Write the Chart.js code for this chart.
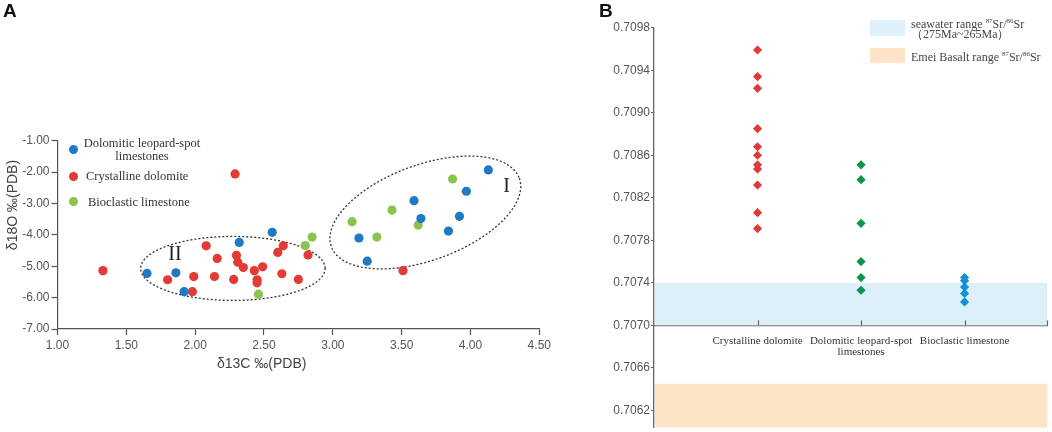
<!DOCTYPE html>
<html><head><meta charset="utf-8">
<script src="https://cdn.jsdelivr.net/npm/chart.js@4.4.1/dist/chart.umd.min.js"></script>
<style>
html,body{margin:0;padding:0;background:#fff;width:1052px;height:432px;overflow:hidden;position:relative;font-family:"Liberation Sans",Arial,sans-serif}
.abs{position:absolute;white-space:nowrap}
#wa{position:absolute;left:0;top:0;width:560px;height:380px}
#wb{position:absolute;left:600px;top:0;width:452px;height:432px}
.serif{font-family:"Liberation Serif","Times New Roman",serif;color:#333}
.dot{position:absolute;width:9px;height:9px;border-radius:50%}
.box{position:absolute}
sup{font-size:58%;vertical-align:5px;line-height:0}
</style></head><body>
<div id="wa"><canvas id="ca" width="560" height="380"></canvas></div>
<div id="wb"><canvas id="cb" width="452" height="432"></canvas></div>

<div class="abs" style="left:3px;top:0px;font-weight:bold;font-size:19px;color:#111">A</div>
<div class="abs" style="left:599px;top:0px;font-weight:bold;font-size:19px;color:#111">B</div>

<div class="abs" style="left:217px;top:355px;font-size:14px;color:#444">δ13C ‰(PDB)</div>
<div class="abs" style="left:12px;top:205px;font-size:14px;color:#444;transform:translate(-50%,-50%) rotate(-90deg)">δ18O ‰(PDB)</div>

<div id="legA"></div>
<div id="legB"></div>

<script>
// ---------- Panel A data ----------
const seriesNamesA = ['Dolomitic leopard-spot limestones', 'Crystalline dolomite', 'Bioclastic limestone'];
const dolomiticX = [1.65, 1.86, 1.92, 2.32, 2.56, 3.19, 3.25, 3.59, 3.64, 3.84, 3.92, 3.97, 4.13];
const dolomiticY = [-5.23, -5.21, -5.81, -4.24, -3.92, -4.10, -4.84, -2.91, -3.48, -3.88, -3.41, -2.61, -1.93];
const crystallineX = [1.33, 1.80, 1.98, 1.99, 2.08, 2.14, 2.16, 2.28, 2.29, 2.30, 2.31, 2.35, 2.43, 2.45, 2.45, 2.49, 2.60, 2.63, 2.64, 2.75, 2.82, 3.51];
const crystallineY = [-5.14, -5.43, -5.81, -5.33, -4.35, -5.33, -4.75, -5.42, -2.06, -4.65, -4.87, -5.04, -5.14, -5.43, -5.53, -5.02, -4.56, -5.24, -4.35, -5.42, -4.64, -5.14];
const bioclasticX = [2.46, 2.80, 2.85, 3.14, 3.32, 3.43, 3.62, 3.87];
const bioclasticY = [-5.89, -4.34, -4.07, -3.58, -4.07, -3.21, -3.69, -2.22];
const xTicksA = [1.0, 1.5, 2.0, 2.5, 3.0, 3.5, 4.0, 4.5];
const yTicksA = [-7, -6, -5, -4, -3, -2, -1];
// zone ellipses in data units: centre, first and second conjugate half-axes
const zoneNames = ['I', 'II'];
const zoneCentres = [[3.672, -3.287], [2.274, -5.07]];
const zoneAxisA = [[0.683, 1.089], [0.67, 0]];
const zoneAxisB = [[0.118, -1.430], [0, 1.02]];
const zoneLabelPos = [[4.262, -2.46], [1.853, -4.64]];

// ---------- Panel B data ----------
const srCategories = ['Crystalline dolomite', ['Dolomitic leopard-spot', 'limestones'], 'Bioclastic limestone'];
const srCrystalline = [0.70959, 0.70934, 0.70923, 0.70885, 0.70868, 0.70860, 0.70851, 0.70847, 0.70832, 0.70806, 0.70791];
const srDolomitic = [0.70851, 0.70837, 0.70796, 0.70760, 0.70745, 0.70733];
const srBioclastic = [0.70745, 0.70742, 0.70736, 0.70730, 0.70722];
const srTicks = [0.7062, 0.7066, 0.7070, 0.7074, 0.7078, 0.7082, 0.7086, 0.7090, 0.7094, 0.7098];
const seawaterRange = [0.7070, 0.7074];
const emeiRange = [0.7060, 0.70645];

const colA = ['#1f79c3', '#e23a35', '#8bc34f'];
const colB = ['#e0393a', '#0a9548', '#1191d8'];

Chart.defaults.font.family = '"Liberation Sans", Arial, sans-serif';
Chart.defaults.animation = false;

function pts(xs, ys) { return xs.map((x, i) => ({x: x, y: ys[i]})); }
function noPad(s) { s.paddingTop = 0; s.paddingBottom = 0; s.paddingLeft = 0; s.paddingRight = 0; }

const zonePlugin = {
  id: 'zones',
  beforeDatasetsDraw(chart) {
    const {ctx, scales: {x, y}} = chart;
    ctx.save();
    ctx.strokeStyle = '#333';
    ctx.lineWidth = 1.3;
    ctx.setLineDash([2, 2]);
    zoneCentres.forEach((c, k) => {
      ctx.beginPath();
      for (let i = 0; i <= 180; i++) {
        const t = i / 180 * Math.PI * 2;
        const dx = c[0] + Math.cos(t) * zoneAxisA[k][0] + Math.sin(t) * zoneAxisB[k][0];
        const dy = c[1] + Math.cos(t) * zoneAxisA[k][1] + Math.sin(t) * zoneAxisB[k][1];
        const px = x.getPixelForValue(dx), py = y.getPixelForValue(dy);
        if (i === 0) ctx.moveTo(px, py); else ctx.lineTo(px, py);
      }
      ctx.closePath();
      ctx.stroke();
    });
    ctx.setLineDash([]);
    ctx.fillStyle = '#222';
    ctx.font = '20px "Liberation Serif", serif';
    ctx.textAlign = 'center';
    ctx.textBaseline = 'middle';
    zoneNames.forEach((n, k) => {
      ctx.fillText(n, x.getPixelForValue(zoneLabelPos[k][0]), y.getPixelForValue(zoneLabelPos[k][1]));
    });
    ctx.restore();
  }
};

new Chart(document.getElementById('ca'), {
  type: 'scatter',
  data: {
    datasets: [
      {label: seriesNamesA[0], data: pts(dolomiticX, dolomiticY), backgroundColor: colA[0]},
      {label: seriesNamesA[1], data: pts(crystallineX, crystallineY), backgroundColor: colA[1]},
      {label: seriesNamesA[2], data: pts(bioclasticX, bioclasticY), backgroundColor: colA[2]}
    ]
  },
  options: {
    responsive: false,
    devicePixelRatio: 1,
    layout: {padding: {top: 140.7, right: 20.7, left: 0, bottom: 0}},
    elements: {point: {radius: 4.6, borderWidth: 0, hoverRadius: 4.6}},
    plugins: {legend: {display: false}, tooltip: {enabled: false}},
    scales: {
      x: {
        type: 'linear', min: 1, max: 4.5,
        afterBuildTicks: s => { s.ticks = xTicksA.map(v => ({value: v})); },
        afterFit: s => { s.height = 51; noPad(s); },
        ticks: {color: '#555', font: {size: 12}, padding: 3, maxRotation: 0, autoSkip: false, callback: v => Number(v).toFixed(2)},
        grid: {drawOnChartArea: false, drawTicks: true, tickLength: 6, tickColor: '#555', tickWidth: 1.2},
        border: {color: '#555', width: 1.2}
      },
      y: {
        type: 'linear', min: -7, max: -1,
        afterBuildTicks: s => { s.ticks = yTicksA.map(v => ({value: v})); },
        afterFit: s => { s.width = 57.5; noPad(s); },
        ticks: {color: '#555', font: {size: 12}, padding: 2, autoSkip: false, callback: v => Number(v).toFixed(2)},
        grid: {drawOnChartArea: false, drawTicks: true, tickLength: 6, tickColor: '#555', tickWidth: 1.2},
        border: {color: '#555', width: 1.2}
      }
    }
  },
  plugins: [zonePlugin]
});

const bandPlugin = {
  id: 'bands',
  beforeDatasetsDraw(chart) {
    const {ctx, chartArea: a, scales: {y}} = chart;
    ctx.save();
    ctx.beginPath(); ctx.rect(a.left, a.top, a.right - a.left, a.bottom - a.top); ctx.clip();
    [[seawaterRange, '#ddf0fa'], [emeiRange, '#fde4c6']].forEach(([r, c]) => {
      const y1 = y.getPixelForValue(r[1]), y0 = y.getPixelForValue(r[0]);
      ctx.fillStyle = c;
      ctx.fillRect(a.left + 1, y1, a.right - a.left - 1, y0 - y1);
    });
    ctx.restore();
  },
  afterDraw(chart) {
    const {ctx, scales: {x, y}} = chart;
    const yAxis = y.getPixelForValue(seawaterRange[0]);
    ctx.save();
    ctx.strokeStyle = '#666';
    ctx.lineWidth = 1.2;
    x.ticks.forEach(t => {
      const px = Math.round(x.getPixelForValue(t.value)) + 0.5;
      ctx.beginPath(); ctx.moveTo(px, yAxis); ctx.lineTo(px, yAxis - 5); ctx.stroke();
    });
    ctx.restore();
  }
};

const srXTicks = srCategories.map((c, i) => i + 1).concat([3.8]);
new Chart(document.getElementById('cb'), {
  type: 'scatter',
  data: {
    datasets: [
      {label: 'Crystalline dolomite', data: srCrystalline.map(v => ({x: 1, y: v})), backgroundColor: colB[0]},
      {label: 'Dolomitic leopard-spot limestones', data: srDolomitic.map(v => ({x: 2, y: v})), backgroundColor: colB[1]},
      {label: 'Bioclastic limestone', data: srBioclastic.map(v => ({x: 3, y: v})), backgroundColor: colB[2]}
    ]
  },
  options: {
    responsive: false,
    devicePixelRatio: 1,
    layout: {padding: {top: 27.7, right: 3, left: 0, bottom: 0}},
    elements: {point: {radius: 4.6, borderWidth: 0, pointStyle: 'rectRot', hoverRadius: 4.6}},
    plugins: {legend: {display: false}, tooltip: {enabled: false}},
    scales: {
      x: {
        type: 'linear', min: 0, max: 3.8,
        position: {y: seawaterRange[0]},
        afterBuildTicks: s => { s.ticks = srXTicks.map(v => ({value: v})); },
        afterFit: s => { noPad(s); },
        ticks: {color: '#333', font: {size: 11, family: '"Liberation Serif", serif', lineHeight: 1.0}, padding: 10, maxRotation: 0, autoSkip: false,
          callback: (v, i) => srCategories[i] || ''},
        grid: {drawOnChartArea: false, drawTicks: false},
        border: {color: '#666', width: 1.3}
      },
      y: {
        type: 'linear', min: 0.70604, max: 0.7098,
        afterBuildTicks: s => { s.ticks = srTicks.map(v => ({value: v})); },
        afterFit: s => { s.width = 54; noPad(s); },
        ticks: {color: '#555', font: {size: 12}, padding: 1, autoSkip: false, callback: v => Number(v).toFixed(4)},
        grid: {drawOnChartArea: false, drawTicks: true, tickLength: 3, tickColor: '#666', tickWidth: 1.2},
        border: {color: '#666', width: 1.3}
      }
    }
  },
  plugins: [bandPlugin]
});

// ---------- HTML legends ----------
const legA = document.getElementById('legA');
const legAPos = [[73.3, 149.3], [73.3, 176], [73.3, 201.3]];
legA.innerHTML =
  `<div class="dot" style="left:${legAPos[0][0]-4.5}px;top:${legAPos[0][1]-4.5}px;background:${colA[0]}"></div>` +
  `<div class="abs serif" style="left:82px;top:137px;width:120px;text-align:center;font-size:12.5px;line-height:12.5px">Dolomitic leopard-spot<br>limestones</div>` +
  `<div class="dot" style="left:${legAPos[1][0]-4.5}px;top:${legAPos[1][1]-4.5}px;background:${colA[1]}"></div>` +
  `<div class="abs serif" style="left:86px;top:169px;font-size:12.5px;line-height:15px">Crystalline dolomite</div>` +
  `<div class="dot" style="left:${legAPos[2][0]-4.5}px;top:${legAPos[2][1]-4.5}px;background:${colA[2]}"></div>` +
  `<div class="abs serif" style="left:88px;top:194.5px;font-size:12.5px;line-height:15px">Bioclastic limestone</div>`;

const legB = document.getElementById('legB');
legB.innerHTML =
  `<div class="box" style="left:870px;top:20px;width:35px;height:16px;background:#ddf0fa"></div>` +
  `<div class="abs serif" style="left:911px;top:19px;font-size:12px;line-height:11px;color:#444">seawater range <sup>87</sup>Sr/<sup>86</sup>Sr</div>` +
  `<div class="abs serif" style="left:911px;top:28.5px;font-size:12px;line-height:11px;color:#444">（275Ma~265Ma）</div>` +
  `<div class="box" style="left:870px;top:48px;width:35px;height:15px;background:#fde4c6"></div>` +
  `<div class="abs serif" style="left:911px;top:50.5px;font-size:12px;line-height:12px;color:#444">Emei Basalt range <sup>87</sup>Sr/<sup>86</sup>Sr</div>`;
</script>
</body></html>
